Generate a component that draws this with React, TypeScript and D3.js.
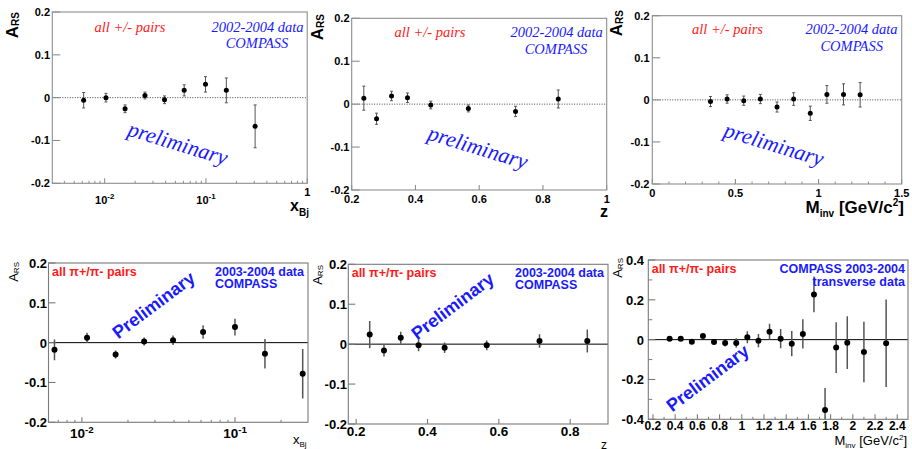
import React from 'react';
import * as d3 from 'd3';

// ---------- data ----------
// top row : 2002-2004 data, all +/- pairs
const xbjTopX = [0.0062, 0.0103, 0.0159, 0.025, 0.039, 0.061, 0.099, 0.159, 0.306];
const xbjTopY = [-0.006, 0.0, -0.026, 0.005, -0.005, 0.017, 0.031, 0.017, -0.067];
const xbjTopE = [0.018, 0.010, 0.009, 0.008, 0.009, 0.013, 0.018, 0.029, 0.050];

const zTopX = [0.238, 0.278, 0.325, 0.375, 0.448, 0.566, 0.714, 0.848];
const zTopY = [0.014, -0.034, 0.019, 0.015, -0.002, -0.010, -0.017, 0.012];
const zTopE = [0.028, 0.013, 0.011, 0.011, 0.009, 0.008, 0.012, 0.021];

const mTopX = [0.35, 0.45, 0.55, 0.65, 0.75, 0.85, 0.95, 1.05, 1.15, 1.25];
const mTopY = [-0.004, 0.002, -0.002, 0.002, -0.017, 0.002, -0.032, 0.013, 0.013, 0.012];
const mTopE = [0.012, 0.010, 0.011, 0.011, 0.012, 0.015, 0.017, 0.021, 0.025, 0.029];

// bottom row : 2003-2004 data, all pi+/pi- pairs
const xbjBotX = [0.00662, 0.0108, 0.0166, 0.0255, 0.0394, 0.0619, 0.100, 0.157, 0.277];
const xbjBotY = [-0.018, 0.012, -0.030, 0.003, 0.006, 0.027, 0.039, -0.028, -0.078];
const xbjBotE = [0.026, 0.013, 0.010, 0.010, 0.012, 0.017, 0.021, 0.037, 0.062];

const zBotX = [0.238, 0.278, 0.325, 0.375, 0.448, 0.566, 0.714, 0.848];
const zBotY = [0.024, -0.016, 0.016, -0.003, -0.009, -0.003, 0.008, 0.008];
const zBotE = [0.034, 0.015, 0.015, 0.015, 0.013, 0.012, 0.017, 0.029];

const mBotX = [0.35, 0.45, 0.55, 0.65, 0.75, 0.85, 0.95, 1.05, 1.15, 1.25, 1.35, 1.45, 1.55, 1.65, 1.75, 1.85, 1.95, 2.10, 2.30];
const mBotY = [0.005, 0.004, -0.010, 0.018, -0.012, -0.017, -0.017, 0.012, -0.005, 0.040, 0.005, -0.020, 0.029, 0.227, -0.353, -0.040, -0.015, -0.062, -0.018];
const mBotE = [0.008, 0.008, 0.009, 0.010, 0.010, 0.017, 0.024, 0.030, 0.033, 0.040, 0.048, 0.063, 0.073, 0.090, 0.110, 0.127, 0.133, 0.152, 0.220];

// tick values
const yTicks02 = [-0.2, -0.1, 0, 0.1, 0.2];
const yTicks04 = [-0.4, -0.2, 0, 0.2, 0.4];
const yMinor04 = [-0.3, -0.1, 0.1, 0.3];
const logMajorTop = [0.01, 0.1, 1];
const logMajorBot = [0.01, 0.1];
const zTicksTop = [0.2, 0.4, 0.6, 0.8, 1];
const zTicksBot = [0.2, 0.4, 0.6, 0.8];
const mTicksTop = [0, 0.5, 1, 1.5];
const mTicksBot = [0.2, 0.4, 0.6, 0.8, 1, 1.2, 1.4, 1.6, 1.8, 2, 2.2, 2.4];

// text
const topLabelRed = 'all +/- pairs';
const topLabelBlue1 = '2002-2004 data';
const topLabelBlue2 = 'COMPASS';
const topPrelim = 'preliminary';
const botLabelRed = 'all \u03c0+/\u03c0- pairs';
const botLabelBlue1 = '2003-2004 data';
const botLabelBlue2 = 'COMPASS';
const botRightBlue1 = 'COMPASS 2003-2004';
const botRightBlue2 = 'transverse data';
const botPrelim = 'Preliminary';

const SANS = '"Liberation Sans", Arial, Helvetica, sans-serif';
const SERIF = '"Liberation Serif", "Times New Roman", serif';
const RED = '#ff1a1a';
const BLUE = '#1a1aff';

const fmt = (v: number) => (Math.abs(v) < 1e-9 ? '0' : String(+v.toFixed(2)));

type Txt = { x: number; y: number; t: string; anchor: string; fill: string };

type Cfg = {
  id: string;
  style: 'top' | 'bot';
  frame: [number, number, number, number];
  xLog: boolean;
  xDomain: [number, number];
  yDomain: [number, number];
  X: number[]; Y: number[]; E: number[];
  yTicks: number[]; yMinor?: number[];
  xTicks: number[]; xMinor?: number[];
  xLabelY: number; yLabelRight: number;
  texts: Txt[];
  prelim: { x: number; y: number };
  yTitle: { x: number; y: number };
  xTitle: React.ReactNode;
};

function logMinor(domain: [number, number]) {
  const out: number[] = [];
  for (let e = -4; e <= 1; e++) {
    for (let k = 2; k <= 9; k++) {
      const v = k * Math.pow(10, e);
      if (v >= domain[0] && v <= domain[1]) out.push(v);
    }
  }
  return out;
}

function range(a: number, b: number, s: number) {
  const out: number[] = [];
  for (let v = a; v <= b + 1e-9; v += s) out.push(+v.toFixed(3));
  return out;
}

function Panel({ c }: { c: Cfg }) {
  const [L, R, T, B] = c.frame;
  const x: any = c.xLog
    ? d3.scaleLog().domain(c.xDomain).range([L, R])
    : d3.scaleLinear().domain(c.xDomain).range([L, R]);
  const y = d3.scaleLinear().domain(c.yDomain).range([B, T]);
  const top = c.style === 'top';
  const frameCol = top ? '#8e8e8e' : '#7a7a7a';
  const tickFs = top ? 11 : 13;
  const xTickFs = top ? 11 : c.id === 'p6' ? 12 : 13.5;
  const ytl = top ? 8 : 7;

  return (
    <g>
      <defs>
        <clipPath id={'clip-' + c.id}>
          <rect x={L} y={T} width={R - L} height={B - T} />
        </clipPath>
      </defs>
      {/* zero line */}
      <line x1={L} x2={R} y1={y(0)} y2={y(0)}
        stroke={top ? '#444' : '#000'} strokeWidth={1}
        strokeDasharray={top ? '1,1.5' : undefined} />
      {/* frame */}
      <rect x={L} y={T} width={R - L} height={B - T} fill="none" stroke={frameCol} strokeWidth={1.1} />
      {/* y ticks */}
      {c.yTicks.map((v) => (
        <g key={'yt' + v}>
          <line x1={L} x2={L + ytl} y1={y(v)} y2={y(v)} stroke={frameCol} strokeWidth={1.1} />
          <text x={c.yLabelRight} y={y(v) + (top ? 4 : 5)} textAnchor="end"
            fontFamily={SANS} fontWeight="bold" fontSize={tickFs} fill="#000">{fmt(v)}</text>
        </g>
      ))}
      {(c.yMinor || []).map((v) => (
        <line key={'ym' + v} x1={L} x2={L + 4} y1={y(v)} y2={y(v)} stroke={frameCol} strokeWidth={1} />
      ))}
      {/* x ticks */}
      {c.xTicks.map((v) => (
        <g key={'xt' + v}>
          <line x1={x(v)} x2={x(v)} y1={B} y2={B - 5} stroke={frameCol} strokeWidth={1.1} />
          {c.xLog && v !== 1 ? (
            <text x={x(v)} y={c.xLabelY} textAnchor="middle" fontFamily={SANS} fontWeight="bold" fontSize={xTickFs}>
              10<tspan fontSize={xTickFs * 0.72} dy={-5}>{String(Math.round(Math.log10(v)))}</tspan>
            </text>
          ) : (
            <text x={x(v)} y={c.xLog ? c.xLabelY - 8 : c.xLabelY} textAnchor="middle"
              fontFamily={SANS} fontWeight="bold" fontSize={xTickFs}>{fmt(v)}</text>
          )}
        </g>
      ))}
      {(c.xMinor || []).map((v) => (
        <line key={'xm' + v} x1={x(v)} x2={x(v)} y1={B} y2={B - 2.5} stroke={frameCol} strokeWidth={1} />
      ))}
      {/* data */}
      <g clipPath={`url(#clip-${c.id})`}>
        {c.X.map((xv, i) => {
          const px = x(xv);
          const y1 = y(c.Y[i] - c.E[i]);
          const y2 = y(c.Y[i] + c.E[i]);
          return (
            <g key={'d' + i}>
              <line x1={px} x2={px} y1={y1} y2={y2} stroke={top ? '#555' : '#555'} strokeWidth={top ? 1 : 1.5} />
              {top && (
                <>
                  <line x1={px - 1.5} x2={px + 1.5} y1={y1} y2={y1} stroke="#555" strokeWidth={1} />
                  <line x1={px - 1.5} x2={px + 1.5} y1={y2} y2={y2} stroke="#555" strokeWidth={1} />
                </>
              )}
              <circle cx={px} cy={y(c.Y[i])} r={top ? 2.5 : 3} fill="#000" />
            </g>
          );
        })}
      </g>
      {/* annotation texts */}
      {c.texts.map((t, i) => (
        <text key={'tx' + i} x={t.x} y={t.y} textAnchor={t.anchor as any}
          fontFamily={top ? SERIF : SANS} fontStyle={top ? 'italic' : 'normal'}
          fontWeight={top ? 'normal' : 'bold'} fontSize={top ? 14.5 : 12.5} fill={t.fill}>{t.t}</text>
      ))}
      <text transform={`translate(${c.prelim.x},${c.prelim.y}) rotate(${top ? 17 : -37})`}
        textAnchor="middle" dy="0.35em"
        fontFamily={top ? SERIF : SANS} fontStyle={top ? 'italic' : 'normal'}
        fontWeight={top ? 'normal' : 'bold'} fontSize={top ? 22 : 18} fill={BLUE}>
        {top ? topPrelim : botPrelim}
      </text>
      {/* y title */}
      <text transform={`translate(${c.yTitle.x},${c.yTitle.y}) rotate(-90)`} textAnchor="end"
        fontFamily={SANS} fontWeight={top ? 'bold' : 'normal'} fontSize={top ? 17 : 13}>
        A<tspan fontSize={top ? 10 : 8} dy={1}>RS</tspan>
      </text>
      {c.xTitle}
    </g>
  );
}

const panels: Cfg[] = [
  {
    id: 'p1', style: 'top', frame: [52.3, 307.2, 12, 183.3], xLog: true, xDomain: [0.00304, 1],
    yDomain: [-0.2, 0.2], X: xbjTopX, Y: xbjTopY, E: xbjTopE, yTicks: yTicks02,
    xTicks: logMajorTop, xMinor: logMinor([0.00304, 1]), xLabelY: 204, yLabelRight: 50,
    texts: [
      { x: 130, y: 31.5, t: topLabelRed, anchor: 'middle', fill: RED },
      { x: 257.5, y: 31.5, t: topLabelBlue1, anchor: 'middle', fill: BLUE },
      { x: 257, y: 48, t: topLabelBlue2, anchor: 'middle', fill: BLUE },
    ],
    prelim: { x: 178, y: 143 }, yTitle: { x: 18, y: 12 },
    xTitle: (
      <text x={290} y={211} fontFamily={SANS} fontWeight="bold" fontSize={16}>
        x<tspan fontSize={10} dy={5}>Bj</tspan>
      </text>
    ),
  },
  {
    id: 'p2', style: 'top', frame: [351.7, 606.7, 18.3, 190], xLog: false, xDomain: [0.2, 1],
    yDomain: [-0.2, 0.2], X: zTopX, Y: zTopY, E: zTopE, yTicks: yTicks02,
    xTicks: zTicksTop, xLabelY: 203, yLabelRight: 349.5,
    texts: [
      { x: 430, y: 37, t: topLabelRed, anchor: 'middle', fill: RED },
      { x: 556.7, y: 37, t: topLabelBlue1, anchor: 'middle', fill: BLUE },
      { x: 556, y: 54, t: topLabelBlue2, anchor: 'middle', fill: BLUE },
    ],
    prelim: { x: 478, y: 147 }, yTitle: { x: 323, y: 14 },
    xTitle: (
      <text x={600} y={217} fontFamily={SANS} fontWeight="bold" fontSize={16}>z</text>
    ),
  },
  {
    id: 'p3', style: 'top', frame: [652.3, 901.7, 15.7, 184], xLog: false, xDomain: [0, 1.5],
    yDomain: [-0.2, 0.2], X: mTopX, Y: mTopY, E: mTopE, yTicks: yTicks02,
    xTicks: mTicksTop, xMinor: range(0.1, 1.4, 0.1), xLabelY: 196.7, yLabelRight: 649.5,
    texts: [
      { x: 727.5, y: 34, t: topLabelRed, anchor: 'middle', fill: RED },
      { x: 851.5, y: 34, t: topLabelBlue1, anchor: 'middle', fill: BLUE },
      { x: 851.7, y: 51, t: topLabelBlue2, anchor: 'middle', fill: BLUE },
    ],
    prelim: { x: 774, y: 144 }, yTitle: { x: 622, y: 10 },
    xTitle: (
      <text x={904} y={213} textAnchor="end" fontFamily={SANS} fontWeight="bold" fontSize={17}>
        M<tspan fontSize={10} dy={4}>inv</tspan><tspan dy={-4}> [GeV/c</tspan><tspan fontSize={10} dy={-7}>2</tspan><tspan dy={7}>]</tspan>
      </text>
    ),
  },
  {
    id: 'p4', style: 'bot', frame: [48.5, 308, 263, 422.3], xLog: true, xDomain: [0.00605, 0.3],
    yDomain: [-0.2, 0.2], X: xbjBotX, Y: xbjBotY, E: xbjBotE, yTicks: yTicks02,
    xTicks: logMajorBot, xMinor: logMinor([0.00605, 0.3]), xLabelY: 438, yLabelRight: 47,
    texts: [
      { x: 52, y: 276, t: botLabelRed, anchor: 'start', fill: RED },
      { x: 215, y: 276, t: botLabelBlue1, anchor: 'start', fill: BLUE },
      { x: 215, y: 287.7, t: botLabelBlue2, anchor: 'start', fill: BLUE },
    ],
    prelim: { x: 153.5, y: 305 }, yTitle: { x: 17.5, y: 262 },
    xTitle: (
      <text x={293} y={444} fontFamily={SANS} fontSize={13}>
        x<tspan fontSize={8} dy={3}>Bj</tspan>
      </text>
    ),
  },
  {
    id: 'p5', style: 'bot', frame: [348.3, 608, 264.3, 424], xLog: false, xDomain: [0.178, 0.906],
    yDomain: [-0.2, 0.2], X: zBotX, Y: zBotY, E: zBotE, yTicks: yTicks02,
    xTicks: zTicksBot, xLabelY: 436, yLabelRight: 347,
    texts: [
      { x: 351.7, y: 277, t: botLabelRed, anchor: 'start', fill: RED },
      { x: 515, y: 277, t: botLabelBlue1, anchor: 'start', fill: BLUE },
      { x: 515, y: 288.5, t: botLabelBlue2, anchor: 'start', fill: BLUE },
    ],
    prelim: { x: 452.5, y: 306 }, yTitle: { x: 321.5, y: 265 },
    xTitle: (
      <text x={601} y={449} fontFamily={SANS} fontSize={12}>z</text>
    ),
  },
  {
    id: 'p6', style: 'bot', frame: [648.3, 908, 260, 419.3], xLog: false, xDomain: [0.158, 2.497],
    yDomain: [-0.4, 0.4], X: mBotX, Y: mBotY, E: mBotE, yTicks: yTicks04, yMinor: yMinor04,
    xTicks: mTicksBot, xMinor: range(0.3, 2.3, 0.2), xLabelY: 430, yLabelRight: 644,
    texts: [
      { x: 651.7, y: 273, t: botLabelRed, anchor: 'start', fill: RED },
      { x: 905, y: 273, t: botRightBlue1, anchor: 'end', fill: BLUE },
      { x: 905, y: 285.5, t: botRightBlue2, anchor: 'end', fill: BLUE },
    ],
    prelim: { x: 707.5, y: 378 }, yTitle: { x: 621.5, y: 258 },
    xTitle: (
      <text x={907} y={445} textAnchor="end" fontFamily={SANS} fontSize={13}>
        M<tspan fontSize={8} dy={3}>inv</tspan><tspan dy={-3}> [GeV/c</tspan><tspan fontSize={8} dy={-5}>2</tspan><tspan dy={5}>]</tspan>
      </text>
    ),
  },
];

export default function App() {
  return (
    <svg width={912} height={449} viewBox="0 0 912 449"
      style={{ position: 'absolute', left: 0, top: 0, background: '#fff' }}>
      <rect x={0} y={0} width={912} height={449} fill="#fff" />
      {panels.map((p) => (
        <Panel key={p.id} c={p} />
      ))}
    </svg>
  );
}
